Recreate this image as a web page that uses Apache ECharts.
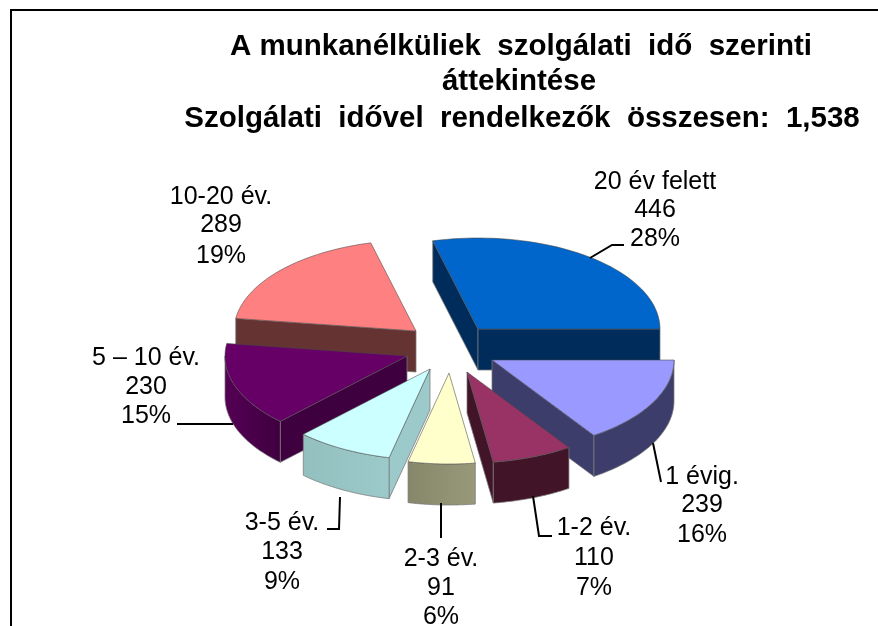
<!DOCTYPE html>
<html><head><meta charset="utf-8">
<style>html,body{margin:0;padding:0;background:#fff}#c{width:878px;height:626px}</style>
<script src="https://cdn.jsdelivr.net/npm/echarts@6/dist/echarts.min.js"></script>
</head><body><div id="c"></div>
<script>
// ---- data ----
const categories = ['20 év felett', '1 évig.', '1-2 év.', '2-3 év.', '3-5 év.', '5 – 10 év.', '10-20 év.'];
const values = [446, 239, 110, 91, 133, 230, 289];
const percentLabels = ['28%', '16%', '7%', '6%', '9%', '15%', '19%'];
const titleLines = ['A munkanélküliek  szolgálati  idő  szerinti', 'áttekintése', 'Szolgálati  idővel  rendelkezők  összesen:  1,538'];

// ---- layout and style (not data) ----
const pieCenter = [449, 349], radiusX = 182, radiusY = 91, depth = 41;
const explodeOffsets = [[29, -20], [43, 11], [18, 23], [0, 24], [-19, 20], [-42, 7], [-33, -18]];
const paintRank = [0, 2, 4, 6, 5, 3, 1];
const topColors = ['#0066cc', '#9999ff', '#993366', '#ffffcc', '#ccffff', '#660066', '#ff8080'];
const sideColors = ['#002c5c', '#3d3d6b', '#421428', '#99997a', '#9cc9c9', '#3f003f', '#663333'];
const rimColors = ['#002c5c', '#3d3d6b', '#421428', '#86866a', '#93bfbf', '#550055', '#663333'];
const labelCentersX = [655, 702, 594, 441, 282, 146, 221];
const labelLineYs = [[182, 210, 239], [477, 505, 535], [528, 558, 588], [559, 588, 617], [523, 552, 582], [358, 387, 416], [197, 225, 256]];
const leaders = [
  [[590, 258], [612, 245], [624, 245]],
  [[653, 443], [661, 482]],
  [[533, 496], [539, 536], [552, 536]],
  [[441, 503], [441, 538]],
  [[340, 497], [339, 529], [327, 529]],
  [[233, 424], [177, 424]],
  []
];
const labelFont = '25px "Liberation Sans", Arial, sans-serif';
const edge = 'rgba(70,70,70,0.55)';
const wallEdge = 'rgba(120,120,120,0.75)';

const total = values.reduce((a, b) => a + b, 0);
const rad = d => d * Math.PI / 180;

// Slices run clockwise; the first one ends at 3 o'clock.
function sliceAngles(i) {
  if (i === 0) return [values[0] / total * 360, 0];
  let end = 0;
  for (let k = 1; k <= i; k++) end -= values[k] / total * 360;
  return [end + values[i] / total * 360, end];
}

function renderSlice(params, api) {
  const i = api.value(0);
  const [a0, a1] = sliceAngles(i);
  const ax = pieCenter[0] + explodeOffsets[i][0];
  const ay = pieCenter[1] + explodeOffsets[i][1];
  const pt = d => [ax + radiusX * Math.cos(rad(d)), ay - radiusY * Math.sin(rad(d))];
  const sweep = (from, to) => {
    const out = [];
    for (let s = 0; s <= 48; s++) out.push(pt(from + (to - from) * s / 48));
    return out;
  };
  const down = p => [p[0], p[1] + depth];
  const z = paintRank[i] * 10;
  const apex = [ax, ay];
  const kids = [];
  const wall = (pts, fill) => kids.push({
    type: 'polygon', shape: { points: pts }, z2: z + 1,
    style: { fill, stroke: wallEdge, lineWidth: 1 }
  });
  // only the faces that look toward the viewer
  if (Math.cos(rad(a0)) < 0) wall([pt(a0), apex, down(apex), down(pt(a0))], sideColors[i]);
  if (Math.cos(rad(a1)) > 0) wall([pt(a1), apex, down(apex), down(pt(a1))], sideColors[i]);
  const f0 = Math.min(a0, 0), f1 = Math.max(a1, -180);
  if (f0 > f1) {
    const rim = sweep(f0, f1);
    wall(rim.concat(rim.slice().reverse().map(down)), {
      type: 'linear', x: 0, y: 0, x2: 1, y2: 0,
      colorStops: [{ offset: 0, color: rimColors[i] }, { offset: 1, color: sideColors[i] }]
    });
  }
  kids.push({
    type: 'polygon', shape: { points: [apex].concat(sweep(a0, a1)) }, z2: z + 3,
    style: { fill: topColors[i], stroke: edge, lineWidth: 1 }
  });
  if (leaders[i].length) {
    kids.push({
      type: 'polyline', shape: { points: leaders[i] }, z2: 900,
      style: { fill: 'none', stroke: '#000', lineWidth: 2 }
    });
  }
  [categories[i], String(values[i]), percentLabels[i]].forEach((txt, k) => {
    kids.push({
      type: 'text', z2: 1000, x: labelCentersX[i], y: labelLineYs[i][k],
      style: { text: txt, font: labelFont, fill: '#000', align: 'center', verticalAlign: 'middle' }
    });
  });
  return { type: 'group', children: kids };
}

const chart = echarts.init(document.getElementById('c'), null, { renderer: 'canvas' });
const titleStyle = { fontFamily: '"Liberation Sans", Arial, sans-serif', fontWeight: 'bold', fontSize: 29.5, color: '#000' };
chart.setOption({
  animation: false,
  backgroundColor: '#fff',
  title: [
    { text: titleLines[0], left: 516, top: 27, textAlign: 'center', textStyle: titleStyle },
    { text: titleLines[1], left: 514, top: 62, textAlign: 'center', textStyle: titleStyle },
    { text: titleLines[2], left: 517, top: 99, textAlign: 'center', textStyle: titleStyle }
  ],
  graphic: [{
    type: 'polyline', silent: true,
    shape: { points: [[11, 626], [11, 10], [878, 10]] },
    style: { fill: 'none', stroke: '#000', lineWidth: 2 }
  }],
  series: [{
    type: 'custom',
    coordinateSystem: 'none',
    renderItem: renderSlice,
    data: values.map((v, i) => [i, v, categories[i]])
  }]
});
</script></body></html>
